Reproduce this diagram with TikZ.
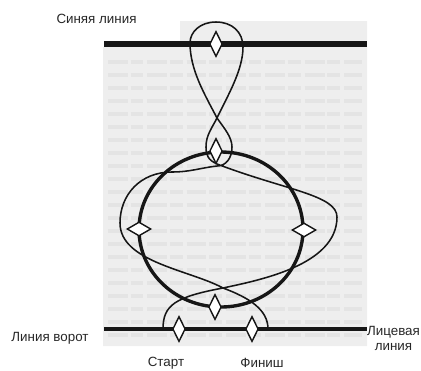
\documentclass[tikz,border=0pt]{standalone}
\usepackage{fontspec}
\setmainfont{Liberation Sans}
\usepackage{xcolor}
\usetikzlibrary{shapes.geometric}
\definecolor{pagegray}{RGB}{238, 238, 238}
\definecolor{printgray}{RGB}{228, 228, 228}
\definecolor{inkblack}{RGB}{22, 22, 22}

\begin{document}
\begin{tikzpicture}[
    x=0.025cm, y=-0.025cm,
    font=\fontsize{9.5}{11.3}\selectfont,
    post/.style={diamond, draw=inkblack, fill=white, line width=1pt, inner sep=0pt, minimum width=9pt, minimum height=18pt},
    wpost/.style={post, minimum width=17pt, minimum height=10pt},
    track/.style={draw=inkblack, line width=1.1pt},
    caption/.style={inner sep=0pt, align=center, text=black!85}
]
    \useasboundingbox (0, 0) rectangle (421, 370);

    % ==========================================
    % PAGE BACKGROUND
    % ==========================================
    \fill[pagegray] (103, 47) -- (180, 47) -- (180, 21) -- (367, 21) -- (367, 346) -- (103, 346) -- cycle;
    \foreach \y in {62, 75, ..., 335} {
        \draw[printgray, line width=3pt, dash pattern=on 14pt off 2pt on 9pt off 3pt] (108, \y) -- (362, \y);
    }

    % ==========================================
    % COORDINATES
    % ==========================================
    \coordinate (blue_l) at (104, 44);
    \coordinate (blue_r) at (367, 44);
    \coordinate (goal_l) at (104, 329);
    \coordinate (goal_r) at (367, 329);
    \coordinate (center) at (221, 229.5);

    % Track points
    \coordinate (tr_start) at (163, 329);
    \coordinate (tr_cross) at (223, 288);
    \coordinate (tr_right) at (337, 217);
    \coordinate (tr_knot) at (217, 164);
    \coordinate (tr_waist) at (217, 118);
    \coordinate (tr_top) at (216, 22);
    \coordinate (tr_left) at (120, 223);
    \coordinate (tr_end) at (268, 329);

    % ==========================================
    % LINES AND CIRCLE
    % ==========================================
    \draw[inkblack, line width=4.2pt] (blue_l) -- (blue_r);
    \draw[inkblack, line width=2.2pt] (goal_l) -- (goal_r);
    \draw[inkblack, line width=2.4pt] (center) ellipse (82 and 77.5);

    % ==========================================
    % TRACK
    % ==========================================
    \draw[track] (tr_start) .. controls (163, 305) and (175, 297) .. (tr_cross)
        .. controls (260, 280) and (337, 265) .. (tr_right)
        .. controls (337, 195) and (285, 190) .. (tr_knot)
        .. controls (208, 160) and (206, 155) .. (206, 147)
        .. controls (206, 135) and (212, 128) .. (tr_waist)
        .. controls (228, 95) and (243, 70) .. (243, 47)
        .. controls (243, 32) and (232, 22) .. (tr_top)
        .. controls (200, 22) and (190, 32) .. (190, 43)
        .. controls (190, 70) and (205, 95) .. (tr_waist)
        .. controls (224, 128) and (232, 137) .. (232, 147)
        .. controls (232, 158) and (226, 166) .. (217, 166)
        .. controls (200, 168) and (190, 172) .. (172, 172)
        .. controls (140, 172) and (120, 195) .. (tr_left)
        .. controls (120, 262) and (190, 270) .. (tr_cross)
        .. controls (250, 298) and (268, 310) .. (tr_end);

    % ==========================================
    % POSTS
    % ==========================================
    \node[post] (blue_post) at (216, 44) {};
    \node[post] (mid_post) at (216, 151) {};
    \node[wpost] (left_post) at (139, 229) {};
    \node[wpost] (right_post) at (304, 230) {};
    \node[post] (low_post) at (215, 307) {};
    \node[post] (start_post) at (179, 329) {};
    \node[post] (finish_post) at (252, 329) {};

    % ==========================================
    % LABELS
    % ==========================================
    \node[caption] (blue_label) at (96.5, 19) {Синяя линия};
    \node[caption] (goal_label) at (50, 338) {Линия ворот};
    \node[caption] (start_label) at (166, 363) {Старт};
    \node[caption] (finish_label) at (262, 363) {Финиш};
    \node[caption] (end_label) at (393.5, 338.5) {Лицевая\\линия};
\end{tikzpicture}
\end{document}
